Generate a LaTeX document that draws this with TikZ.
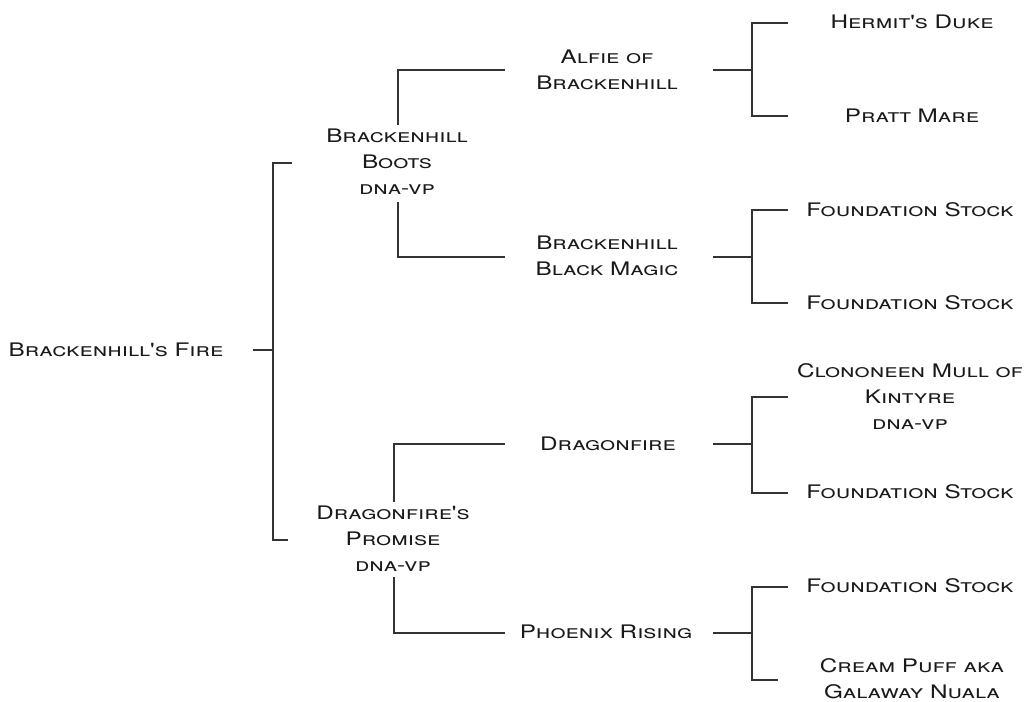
\documentclass[tikz,border=0pt]{standalone}
\usepackage{fontspec}
\newfontfamily\horsefont{TeX Gyre Heros}[FakeStretch=1.3]
\usetikzlibrary{backgrounds}
\pgfdeclarelayer{edgelayer}
\pgfdeclarelayer{nodelayer}
\pgfsetlayers{edgelayer,nodelayer,main}
\tikzset{font=\horsefont\scshape\fontsize{14}{19.5}\selectfont}
\tikzstyle{none}=[inner sep=0pt]
\tikzstyle{horse}=[align=center,inner sep=0pt,text=black!90]
\tikzstyle{bracket}=[line width=1.4pt,draw=black!80]

\begin{document}
\begin{tikzpicture}[x=0.75pt,y=-0.75pt]
	\useasboundingbox (0,0) rectangle (1031,701);
	\begin{pgfonlayer}{nodelayer}
		\node [style=horse] (0) at (116, 350) {Brackenhill's Fire};
		\node [style=horse] (1) at (397, 162) {Brackenhill\\Boots\\dna-vp};
		\node [style=horse] (2) at (393, 539) {Dragonfire's\\Promise\\dna-vp};
		\node [style=horse] (3) at (607, 70) {Alfie of\\Brackenhill};
		\node [style=horse] (4) at (607, 256) {Brackenhill\\Black Magic};
		\node [style=horse] (5) at (608, 444) {Dragonfire};
		\node [style=horse] (6) at (606, 632) {Phoenix Rising};
		\node [style=horse] (7) at (912, 22) {Hermit's Duke};
		\node [style=horse] (8) at (912, 116) {Pratt Mare};
		\node [style=horse] (9) at (910, 210) {Foundation Stock};
		\node [style=horse] (10) at (910, 303) {Foundation Stock};
		\node [style=horse] (11) at (910, 397) {Clononeen Mull of\\Kintyre\\dna-vp};
		\node [style=horse] (12) at (910, 492) {Foundation Stock};
		\node [style=horse] (13) at (910, 586) {Foundation Stock};
		\node [style=horse] (14) at (912, 679) {Cream Puff aka\\Galaway Nuala};
		\node [style=none] (20) at (253, 350) {};
		\node [style=none] (21) at (273, 350) {};
		\node [style=none] (22) at (273, 163) {};
		\node [style=none] (23) at (292, 163) {};
		\node [style=none] (24) at (273, 540) {};
		\node [style=none] (25) at (288, 540) {};
		\node [style=none] (30) at (398, 125) {};
		\node [style=none] (31) at (398, 70) {};
		\node [style=none] (32) at (505, 70) {};
		\node [style=none] (33) at (398, 202) {};
		\node [style=none] (34) at (398, 257) {};
		\node [style=none] (35) at (505, 257) {};
		\node [style=none] (40) at (394, 502) {};
		\node [style=none] (41) at (394, 444) {};
		\node [style=none] (42) at (505, 444) {};
		\node [style=none] (43) at (394, 577) {};
		\node [style=none] (44) at (394, 633) {};
		\node [style=none] (45) at (505, 633) {};
		\node [style=none] (50) at (713, 70) {};
		\node [style=none] (51) at (752, 70) {};
		\node [style=none] (52) at (752, 23) {};
		\node [style=none] (53) at (788, 23) {};
		\node [style=none] (54) at (752, 116) {};
		\node [style=none] (55) at (788, 116) {};
		\node [style=none] (60) at (713, 257) {};
		\node [style=none] (61) at (752, 257) {};
		\node [style=none] (62) at (752, 210) {};
		\node [style=none] (63) at (788, 210) {};
		\node [style=none] (64) at (752, 303) {};
		\node [style=none] (65) at (788, 303) {};
		\node [style=none] (70) at (713, 444) {};
		\node [style=none] (71) at (752, 444) {};
		\node [style=none] (72) at (752, 397) {};
		\node [style=none] (73) at (788, 397) {};
		\node [style=none] (74) at (752, 493) {};
		\node [style=none] (75) at (788, 493) {};
		\node [style=none] (80) at (713, 633) {};
		\node [style=none] (81) at (752, 633) {};
		\node [style=none] (82) at (752, 587) {};
		\node [style=none] (83) at (788, 587) {};
		\node [style=none] (84) at (752, 680) {};
		\node [style=none] (85) at (778, 680) {};
	\end{pgfonlayer}
	\begin{pgfonlayer}{edgelayer}
		\draw [style=bracket] (20.center) to (21.center);
		\draw [style=bracket] (23.center) to (22.center) to (24.center) to (25.center);
		\draw [style=bracket] (30.center) to (31.center) to (32.center);
		\draw [style=bracket] (33.center) to (34.center) to (35.center);
		\draw [style=bracket] (40.center) to (41.center) to (42.center);
		\draw [style=bracket] (43.center) to (44.center) to (45.center);
		\draw [style=bracket] (50.center) to (51.center);
		\draw [style=bracket] (53.center) to (52.center) to (54.center) to (55.center);
		\draw [style=bracket] (60.center) to (61.center);
		\draw [style=bracket] (63.center) to (62.center) to (64.center) to (65.center);
		\draw [style=bracket] (70.center) to (71.center);
		\draw [style=bracket] (73.center) to (72.center) to (74.center) to (75.center);
		\draw [style=bracket] (80.center) to (81.center);
		\draw [style=bracket] (83.center) to (82.center) to (84.center) to (85.center);
	\end{pgfonlayer}
\end{tikzpicture}
\end{document}
